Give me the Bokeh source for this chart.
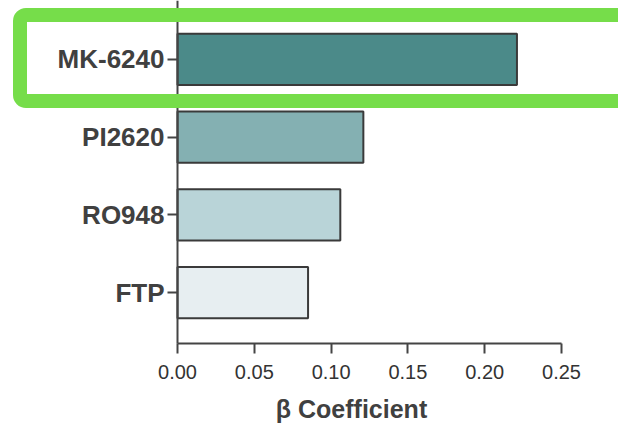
from bokeh.plotting import figure
from bokeh.models import Range1d, FixedTicker, NumeralTickFormatter, BoxAnnotation, ColumnDataSource, Label
from bokeh.embed import file_html
from bokeh.resources import INLINE

# data
tracers = ["MK-6240", "PI2620", "RO948", "FTP"]
beta = [0.221, 0.121, 0.106, 0.085]
bar_colors = ["#4b8a89", "#84b0b2", "#b9d4d8", "#e7eef1"]
x_ticks = [0.0, 0.05, 0.10, 0.15, 0.20, 0.25]
x_title = "β Coefficient"

# category positions (top to bottom)
ypos = [len(tracers) - i for i in range(len(tracers))]

src = ColumnDataSource(dict(tracer=tracers, y=ypos, beta=beta, color=bar_colors))

W, H = 618, 426
x0_px, x_scale = 177, 1536.0      # pixel of x=0, pixels per unit
y_top_val, y_unit = 4.759, 77.7   # value at top edge, pixels per category

p = figure(width=W, height=H, output_backend="svg", toolbar_location=None,
           x_range=Range1d(-x0_px / x_scale, (W - x0_px) / x_scale),
           y_range=Range1d(y_top_val - H / y_unit, y_top_val),
           min_border_left=0, min_border_right=0, min_border_top=0, min_border_bottom=0)

p.hbar(y="y", right="beta", left=0, height=0.66, source=src,
       fill_color="color", line_color="#3a3a3a", line_width=2)

p.outline_line_color = None
p.xgrid.grid_line_color = None
p.ygrid.grid_line_color = None
p.background_fill_color = "white"
p.border_fill_color = "white"

x_axis_at = y_top_val - 343 / y_unit

ax = p.xaxis[0]
ax.fixed_location = x_axis_at
ax.bounds = (x_ticks[0], x_ticks[-1])
ax.ticker = FixedTicker(ticks=x_ticks)
ax.formatter = NumeralTickFormatter(format="0.00")
ax.major_label_text_font = "Liberation Sans"
ax.major_label_text_font_size = "20px"
ax.major_label_text_color = "#333333"
ax.major_label_standoff = 11
ax.axis_line_color = "#444444"
ax.axis_line_width = 2
ax.major_tick_line_color = "#444444"
ax.major_tick_line_width = 2
ax.major_tick_out = 10
ax.major_tick_in = 0
ax.minor_tick_line_color = None

ay = p.yaxis[0]
ay.fixed_location = 0
ay.bounds = (x_axis_at, y_top_val)
ay.ticker = FixedTicker(ticks=ypos)
ay.major_label_overrides = {k: t for k, t in zip(ypos, tracers)}
ay.major_label_text_font = "Liberation Sans"
ay.major_label_text_font_style = "bold"
ay.major_label_text_font_size = "26px"
ay.major_label_text_color = "#404040"
ay.major_label_standoff = 3
ay.axis_line_color = "#444444"
ay.axis_line_width = 2
ay.major_tick_line_color = "#444444"
ay.major_tick_line_width = 2
ay.major_tick_out = 10
ay.major_tick_in = 0
ay.minor_tick_line_color = None

# axis title
p.add_layout(Label(x=0.1133, y=18, y_units="screen", text=x_title,
                   text_font="Liberation Sans", text_font_style="bold",
                   text_font_size="25px", text_color="#404040",
                   text_align="center", text_baseline="middle"))

# highlight box around the top bar (annotation, canvas units)
hl = BoxAnnotation(left=19.5, right=650, top=14.5, bottom=100.5,
                   left_units="canvas", right_units="canvas",
                   top_units="canvas", bottom_units="canvas",
                   fill_alpha=0, line_alpha=1, line_color="#76dd4a", line_width=14,
                   border_radius=6, level="overlay", editable=False)
p.add_layout(hl)

open("out.html", "w").write(file_html(p, INLINE))
